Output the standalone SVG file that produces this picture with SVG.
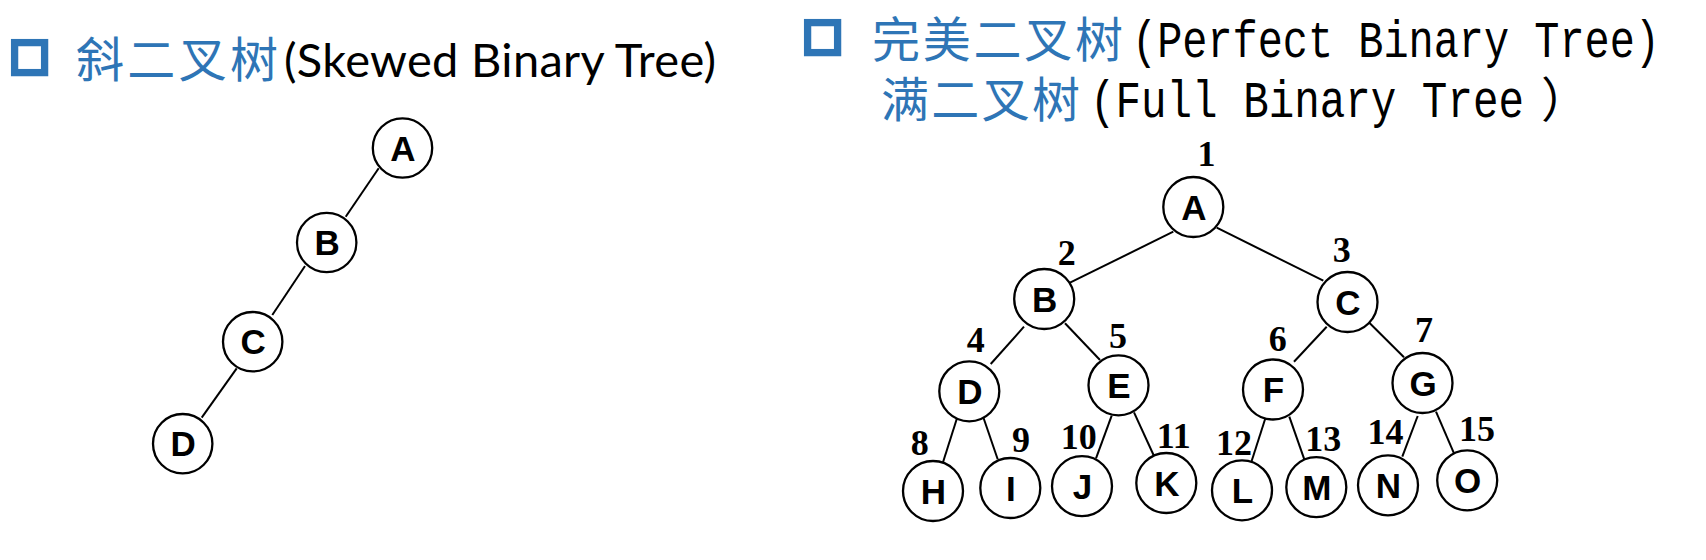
<svg xmlns="http://www.w3.org/2000/svg" width="1706" height="560" viewBox="0 0 1706 560">
<style>
.bg{fill:#ffffff}
.bullet{fill:#ffffff;stroke:#2E75B6;stroke-width:7.3}
.cjk{font-family:"Noto Sans CJK SC",sans-serif;font-size:48px;fill:#2E75B6}
.lat{font-family:Lato,"Liberation Sans",sans-serif;font-size:47px;fill:#000}
.mono{font-family:"Liberation Mono",monospace;font-size:51px;fill:#000}
.node circle{fill:#fff;stroke:#000;stroke-width:2.3}
.node text{font-family:"Liberation Sans",Arial,sans-serif;font-weight:bold;font-size:35px;text-anchor:middle;fill:#000}
.num{font-family:"Liberation Serif","Times New Roman",serif;font-weight:bold;font-size:36px;text-anchor:middle;fill:#000}
.edges line{stroke:#000;stroke-width:2}
</style>
<rect class="bg" x="0" y="0" width="1706" height="560"/>

<g id="title-left">
<rect class="bullet" x="14.6" y="42.6" width="30" height="30"/>
<text class="cjk" x="76" y="77" textLength="202">斜二叉树</text>
<text class="lat" x="284" y="77" textLength="432">(Skewed Binary Tree)</text>
</g>

<g id="title-right">
<rect class="bullet" x="807.6" y="22.6" width="30" height="30"/>
<text class="cjk" x="872" y="57" textLength="251">完美二叉树</text>
<text class="mono" x="1132" y="57" textLength="528" lengthAdjust="spacingAndGlyphs">(Perfect Binary Tree)</text>
<text class="cjk" x="881" y="117" textLength="199">满二叉树</text>
<text class="mono" x="1090" y="117"><tspan textLength="434" lengthAdjust="spacingAndGlyphs">(Full Binary Tree</tspan><tspan x="1541" style="font-family:'Noto Sans CJK SC',sans-serif;font-size:48px">）</tspan></text>
</g>

<g id="connectors" class="edges">
<line x1="378.7" y1="168.3" x2="345.7" y2="216.7"/>
<line x1="305" y1="266" x2="272.3" y2="315"/>
<line x1="236.7" y1="368.3" x2="201.7" y2="417.7"/>
<line x1="1173.3" y1="231.7" x2="1070" y2="282.7"/>
<line x1="1216.7" y1="227.7" x2="1323.3" y2="280.7"/>
<line x1="1024" y1="326.7" x2="990.7" y2="364"/>
<line x1="1065" y1="323.3" x2="1100" y2="360"/>
<line x1="1326.7" y1="326.7" x2="1294" y2="361.7"/>
<line x1="1369.3" y1="322.7" x2="1404" y2="357.3"/>
<line x1="957.3" y1="417.3" x2="942.7" y2="463.3"/>
<line x1="983.3" y1="417.3" x2="997.7" y2="459.3"/>
<line x1="1111.7" y1="415.7" x2="1096" y2="458.3"/>
<line x1="1134" y1="412.3" x2="1154" y2="456"/>
<line x1="1265.7" y1="417.3" x2="1250.7" y2="464"/>
<line x1="1289.3" y1="416.7" x2="1304.3" y2="459.3"/>
<line x1="1417.7" y1="416" x2="1402.3" y2="456.7"/>
<line x1="1436" y1="411.7" x2="1454" y2="453.3"/>
</g>

<g id="skew-A" class="node"><circle cx="402.5" cy="148" r="29.7"/><text x="403" y="160.5">A</text></g>
<g id="skew-B" class="node"><circle cx="326.7" cy="242.5" r="29.7"/><text x="327.2" y="255">B</text></g>
<g id="skew-C" class="node"><circle cx="252.7" cy="341.7" r="29.7"/><text x="253.2" y="354.2">C</text></g>
<g id="skew-D" class="node"><circle cx="182.7" cy="443.7" r="29.7"/><text x="183.2" y="456.2">D</text></g>

<g id="full-A" class="node"><circle cx="1193.3" cy="207" r="30"/><text x="1193.8" y="219.5">A</text></g>
<g id="full-B" class="node"><circle cx="1044.2" cy="299" r="30"/><text x="1044.7" y="311.5">B</text></g>
<g id="full-C" class="node"><circle cx="1347.5" cy="302" r="30"/><text x="1348" y="314.5">C</text></g>
<g id="full-D" class="node"><circle cx="969.3" cy="391.3" r="30"/><text x="969.8" y="403.8">D</text></g>
<g id="full-E" class="node"><circle cx="1118.5" cy="385.3" r="30"/><text x="1119" y="397.8">E</text></g>
<g id="full-F" class="node"><circle cx="1273" cy="389.5" r="30"/><text x="1273.5" y="402">F</text></g>
<g id="full-G" class="node"><circle cx="1422.5" cy="383" r="30"/><text x="1423" y="395.5">G</text></g>
<g id="full-H" class="node"><circle cx="933" cy="491" r="30"/><text x="933.5" y="503.5">H</text></g>
<g id="full-I" class="node"><circle cx="1010.3" cy="488" r="30"/><text x="1010.8" y="500.5">I</text></g>
<g id="full-J" class="node"><circle cx="1082" cy="486.2" r="30"/><text x="1082.5" y="498.7">J</text></g>
<g id="full-K" class="node"><circle cx="1166.3" cy="483" r="30"/><text x="1166.8" y="495.5">K</text></g>
<g id="full-L" class="node"><circle cx="1242" cy="490.3" r="30"/><text x="1242.5" y="502.8">L</text></g>
<g id="full-M" class="node"><circle cx="1316.3" cy="487.2" r="30"/><text x="1316.8" y="499.7">M</text></g>
<g id="full-N" class="node"><circle cx="1388" cy="485.3" r="30"/><text x="1388.5" y="497.8">N</text></g>
<g id="full-O" class="node"><circle cx="1467.2" cy="480.3" r="30"/><text x="1467.7" y="492.8">O</text></g>

<g id="numbers">
<text class="num" x="1206.5" y="166">1</text>
<text class="num" x="1066.7" y="265">2</text>
<text class="num" x="1341.7" y="262">3</text>
<text class="num" x="975.7" y="352">4</text>
<text class="num" x="1118" y="348">5</text>
<text class="num" x="1277.7" y="351">6</text>
<text class="num" x="1424" y="342">7</text>
<text class="num" x="919.7" y="455">8</text>
<text class="num" x="1021" y="451.5">9</text>
<text class="num" x="1078.8" y="449">10</text>
<text class="num" x="1173.7" y="448">11</text>
<text class="num" x="1234" y="455">12</text>
<text class="num" x="1323.3" y="450.5">13</text>
<text class="num" x="1385.5" y="444">14</text>
<text class="num" x="1477" y="440.5">15</text>
</g>
</svg>
